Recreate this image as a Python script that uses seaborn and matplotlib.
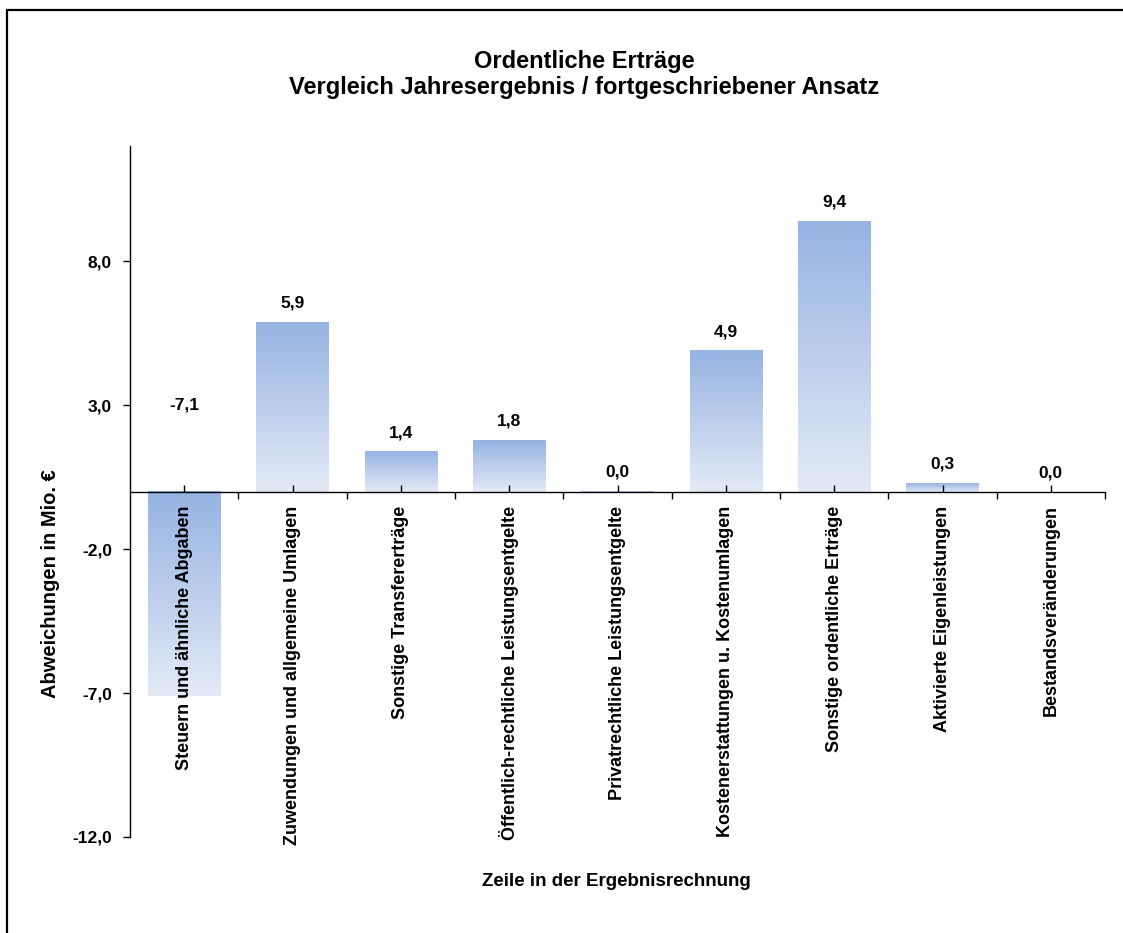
import numpy as np
import pandas as pd
import seaborn as sns
import matplotlib.pyplot as plt
from matplotlib.lines import Line2D
from matplotlib.colors import LinearSegmentedColormap
from matplotlib.ticker import FixedLocator, FuncFormatter

categories = [
    "Steuern und ähnliche Abgaben",
    "Zuwendungen und allgemeine Umlagen",
    "Sonstige Transfererträge",
    "Öffentlich-rechtliche Leistungsentgelte",
    "Privatrechtliche Leistungsentgelte",
    "Kostenerstattungen u. Kostenumlagen",
    "Sonstige ordentliche Erträge",
    "Aktivierte Eigenleistungen",
    "Bestandsveränderungen",
]
values = [-7.1, 5.9, 1.4, 1.8, 0.03, 4.9, 9.4, 0.3, 0.0]
y_ticks = [-12.0, -7.0, -2.0, 3.0, 8.0]

title = "Ordentliche Erträge\nVergleich Jahresergebnis / fortgeschriebener Ansatz"
x_label = "Zeile in der Ergebnisrechnung"
y_label = "Abweichungen in Mio. €"

sns.set_style("white")
plt.rcParams['font.family'] = ['Liberation Sans', 'DejaVu Sans']
plt.rcParams['font.weight'] = 'bold'
for key in ['text.color', 'axes.labelcolor', 'xtick.color', 'ytick.color', 'axes.edgecolor']:
    plt.rcParams[key] = 'black'

df = pd.DataFrame({"zeile": categories, "wert": values})

fig = plt.figure(figsize=(11.23, 9.33), dpi=100)
ax = fig.add_axes([0.1158, 0.1029, 0.984 - 0.1158, 0.8435 - 0.1029])
ax.set_axisbelow(False)

sns.barplot(data=df, x="zeile", y="wert", color="#97B4E3", width=0.67, ax=ax)

# gradient fill: darker at the top, lighter at the bottom of each bar
cmap = LinearSegmentedColormap.from_list("grad", ["#E3EAF6", "#96B3E3"])
grad = np.linspace(0, 1, 256).reshape(-1, 1)
for p in list(ax.patches):
    x0, y0 = p.get_x(), p.get_y()
    w, h = p.get_width(), p.get_height()
    if abs(h) < 1e-9:
        continue
    lo, hi = min(y0, y0 + h), max(y0, y0 + h)
    p.set_facecolor("none")
    p.set_edgecolor("none")
    ax.imshow(grad, cmap=cmap, aspect="auto", origin="lower",
              extent=[x0, x0 + w, lo, hi], zorder=1.5, interpolation="bicubic")

ax.set_xlim(-0.5, len(categories) - 0.5)
ax.set_ylim(-12, 12)

# value labels
for i, v in enumerate(values):
    txt = f"{v:.1f}".replace(".", ",")
    if v >= 0:
        ax.annotate(txt, (i, v), xytext=(0, 8), textcoords="offset points",
                    ha="center", va="bottom", fontsize=12.5, fontweight="bold")
    else:
        ax.text(i, 3.0, txt, ha="center", va="center", fontsize=12.5, fontweight="bold")

sns.despine(ax=ax, top=True, right=True)
ax.spines['bottom'].set_position(('data', 0))
ax.spines['bottom'].set_linewidth(1.0)
ax.spines['left'].set_linewidth(1.0)

ax.yaxis.set_major_locator(FixedLocator(y_ticks))
ax.yaxis.set_major_formatter(FuncFormatter(lambda v, pos: f"{v:.1f}".replace(".", ",")))
ax.tick_params(axis="y", direction="out", length=5, width=1, left=True, pad=8, labelsize=12.5)

ax.set_xticks(range(len(categories)))
ax.set_xticklabels(categories, rotation=90, fontsize=13, fontweight="bold")
ax.set_xticks(np.arange(0.5, len(categories)), minor=True)
ax.tick_params(axis="x", which="major", direction="in", length=5, width=1, bottom=True, pad=10)
ax.tick_params(axis="x", which="minor", direction="out", length=5, width=1, bottom=True)
for lbl in ax.get_yticklabels():
    lbl.set_fontweight("bold")

ax.set_xlabel("")
ax.set_ylabel("")

fig.text(0.52, 0.92, title, ha="center", va="center", fontsize=17,
         fontweight="bold", linespacing=1.15)
fig.text(0.549, 0.0547, x_label, ha="center", va="center", fontsize=13.5, fontweight="bold")
fig.text(0.0454, 0.375, y_label, ha="center", va="center", rotation=90,
         fontsize=14.5, fontweight="bold")

# outer frame (only left and top edges visible)
top_y = 1 - 10 / 933
left_x = 7 / 1123
fig.add_artist(Line2D([left_x, 1], [top_y, top_y], transform=fig.transFigure,
                      color="black", linewidth=1.6))
fig.add_artist(Line2D([left_x, left_x], [0, top_y], transform=fig.transFigure,
                      color="black", linewidth=1.6))

fig.savefig("out.png", dpi=100)
